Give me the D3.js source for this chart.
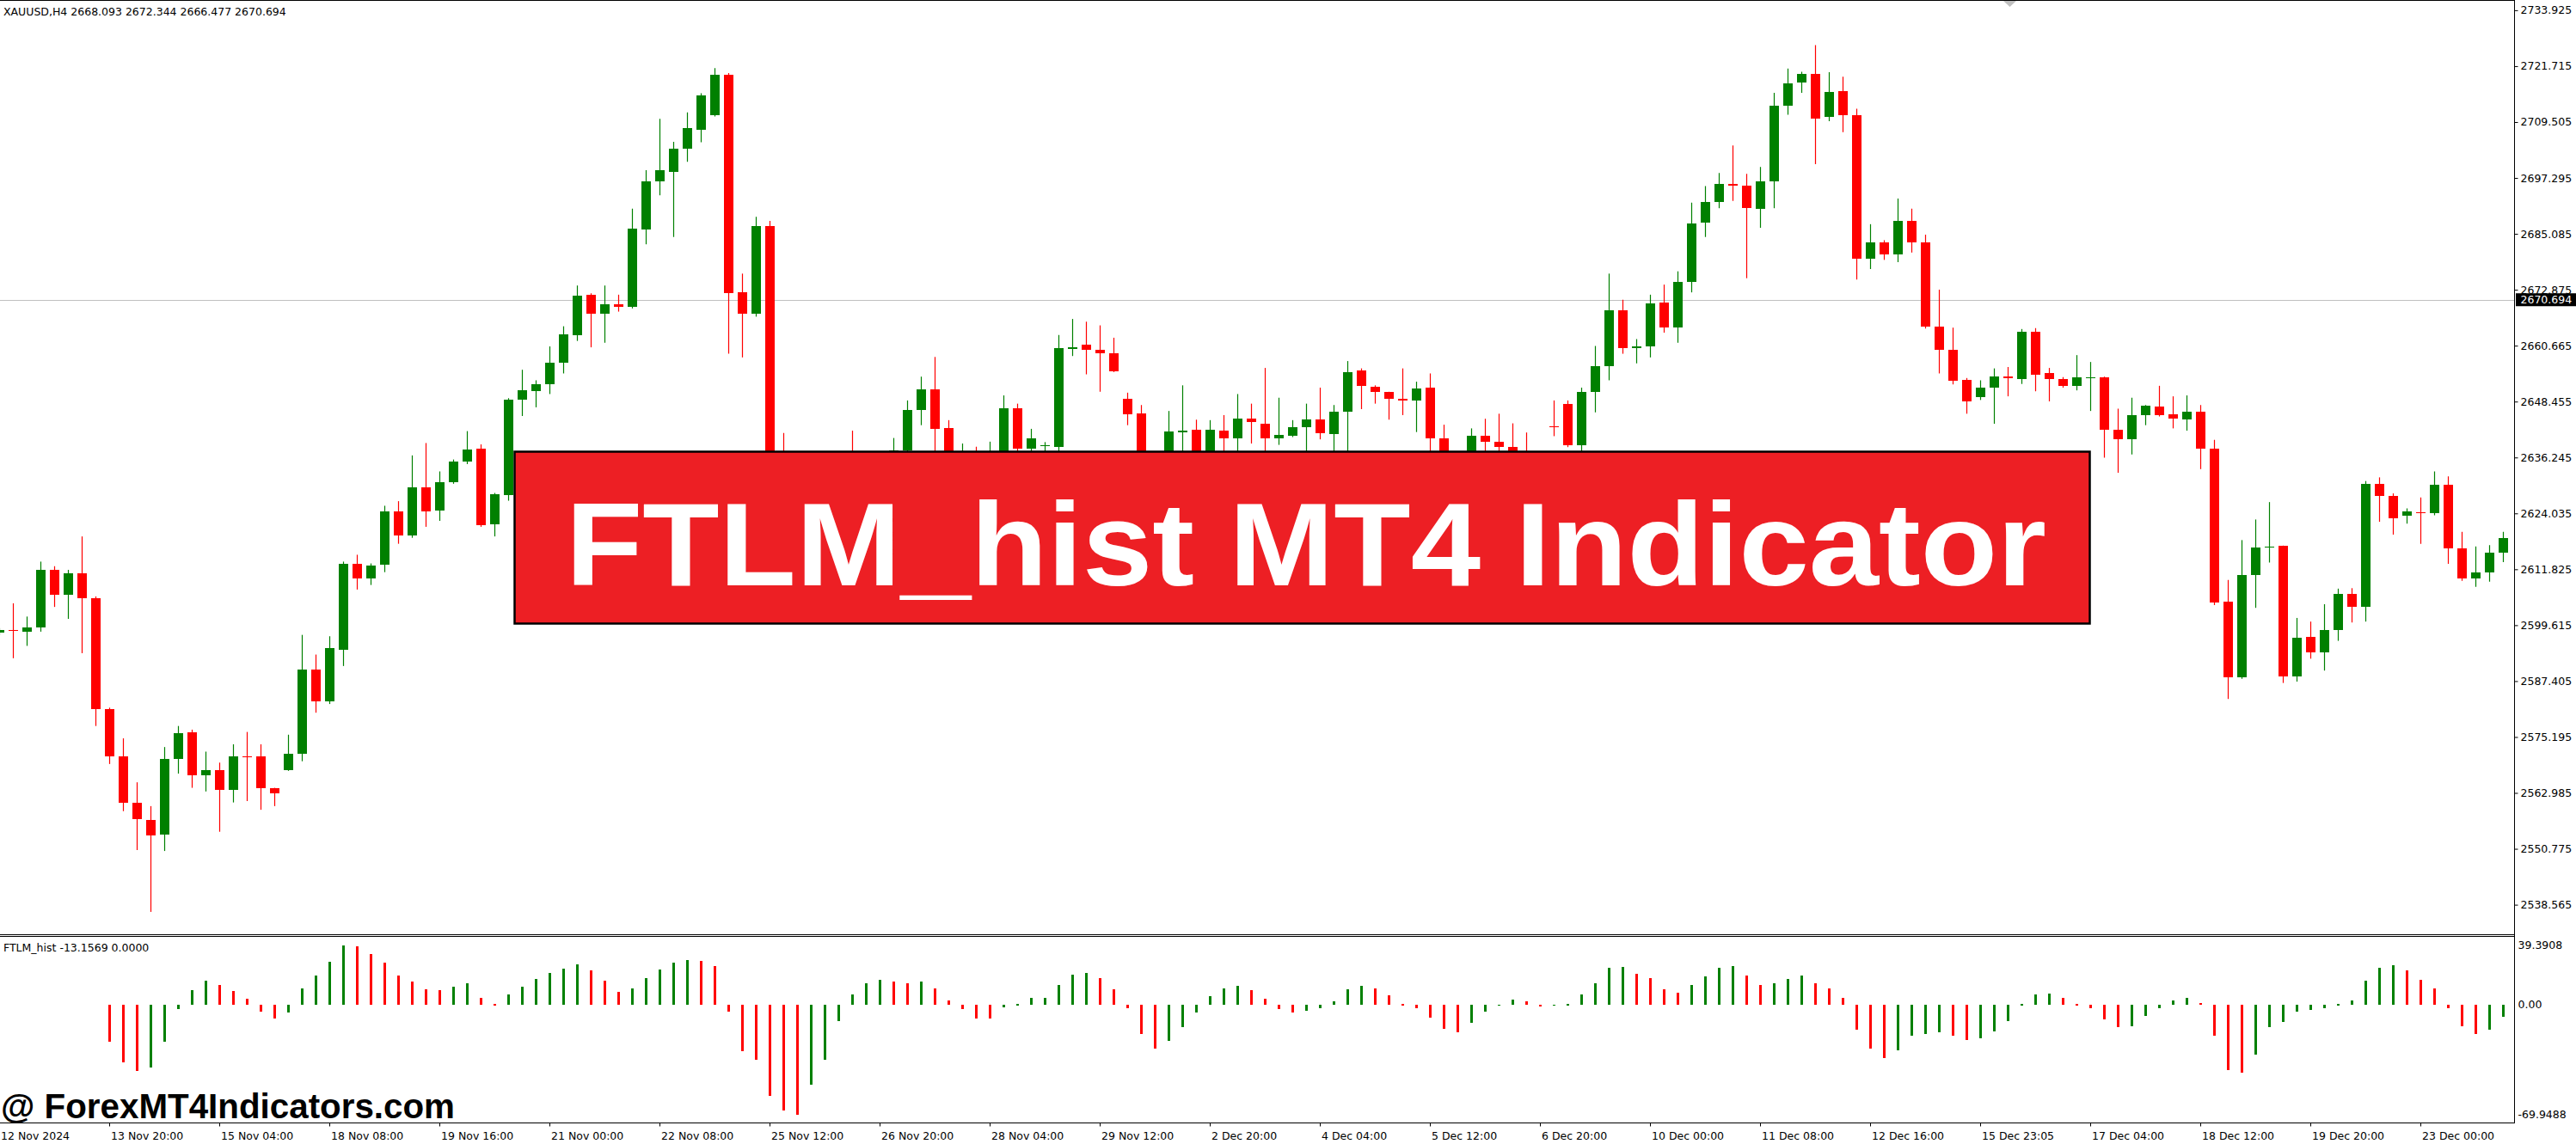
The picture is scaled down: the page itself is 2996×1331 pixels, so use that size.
<!DOCTYPE html>
<html><head><meta charset="utf-8">
<script src="https://d3js.org/d3.v7.min.js"></script>
<style>html,body{margin:0;padding:0;background:#fff;overflow:hidden}</style>
</head><body><svg id="chart" width="2996" height="1331" xmlns="http://www.w3.org/2000/svg"></svg>
<script>
// ---------------- DATA ----------------
const symbolLabel = "XAUUSD,H4  2668.093 2672.344 2666.477 2670.694";
const indicatorLabel = "FTLM_hist -13.1569 0.0000";
const bannerText = "FTLM_hist MT4 Indicator";
const watermarkText = "@ ForexMT4Indicators.com";
const bidPrice = 2670.694;

const openPrices = [
2598.0,2598.6,2598.2,2599.1,2611.7,2606.3,2610.9,2605.5,2581.3,2570.9,
2560.9,2557.0,2553.8,2570.4,2576.3,2566.9,2568.0,2563.7,2571.0,2570.9,
2564.0,2568.0,2571.5,2589.9,2583.0,2594.3,2613.0,2609.9,2612.8,2624.4,
2619.2,2629.7,2624.6,2630.8,2635.3,2638.2,2621.6,2628.0,2648.8,2650.7,
2652.2,2656.9,2663.0,2671.8,2667.6,2669.7,2669.1,2686.1,2696.5,2698.6,
2703.6,2707.9,2711.0,2719.9,2672.3,2667.6,2686.8,2627.0,2619.0,2611.0,
2617.0,2625.0,2630.0,2626.0,2629.0,2627.0,2637.8,2646.6,2651.1,2642.6,
2632.0,2635.0,2631.0,2634.0,2646.9,2638.2,2638.7,2638.6,2660.0,2660.8,
2659.8,2659.0,2649.0,2645.8,2632.0,2630.0,2641.8,2642.3,2635.0,2642.1,
2640.5,2644.7,2643.7,2640.5,2641.0,2642.8,2644.5,2641.3,2646.3,2655.2,
2651.7,2650.6,2649.0,2648.7,2651.5,2640.4,2630.0,2626.0,2641.0,2639.7,
2638.6,2634.0,2632.0,2643.0,2648.0,2639.0,2650.6,2656.2,2668.3,2660.2,
2660.5,2670.0,2664.6,2674.5,2687.6,2692.0,2696.0,2695.7,2690.6,2696.5,
2713.0,2718.2,2720.1,2710.7,2716.2,2711.0,2679.6,2683.3,2680.5,2688.0,
2683.3,2664.8,2659.8,2653.1,2649.5,2651.5,2653.9,2653.3,2663.7,2654.6,
2653.4,2651.9,2653.7,2653.8,2642.3,2640.2,2645.5,2647.4,2645.7,2644.5,
2646.3,2638.2,2604.7,2588.3,2610.6,2616.5,2616.9,2588.4,2597.0,2593.7,
2598.5,2606.4,2603.7,2630.5,2627.9,2623.5,2624.3,2624.1,2630.3,2616.3,
2609.9,2611.1,2615.5];
const highPrices = [
2599.0,2604.4,2601.5,2613.5,2612.5,2611.7,2619.0,2605.9,2581.6,2574.9,
2565.3,2560.1,2573.0,2577.6,2576.8,2572.0,2569.6,2573.6,2576.3,2573.6,
2564.1,2575.7,2597.5,2593.2,2597.2,2613.5,2615.0,2613.1,2625.7,2626.7,
2636.7,2639.4,2633.2,2635.8,2642.0,2639.1,2628.5,2649.2,2655.4,2653.1,
2660.5,2664.9,2673.8,2672.1,2673.8,2671.8,2690.6,2699.0,2710.2,2705.2,
2711.6,2715.8,2721.3,2720.2,2676.4,2688.8,2687.9,2641.6,2624.0,2621.0,
2628.0,2634.0,2642.1,2633.0,2634.0,2640.5,2648.7,2653.9,2658.2,2644.4,
2639.3,2638.6,2639.7,2649.8,2648.0,2642.5,2639.6,2663.0,2666.5,2665.9,
2665.1,2662.4,2650.4,2647.7,2636.0,2646.4,2652.0,2644.5,2644.4,2645.5,
2650.1,2648.0,2655.8,2649.3,2644.4,2648.0,2651.5,2647.7,2657.3,2655.7,
2652.0,2650.6,2655.7,2652.8,2654.6,2643.4,2635.0,2642.6,2644.7,2645.8,
2643.7,2641.7,2637.0,2648.7,2648.7,2651.5,2660.6,2676.4,2670.7,2662.1,
2671.8,2674.0,2676.9,2691.9,2695.5,2698.4,2704.4,2698.2,2699.7,2715.9,
2721.2,2720.5,2726.3,2720.4,2719.4,2712.4,2687.2,2683.7,2692.8,2690.6,
2684.9,2672.9,2664.6,2653.6,2653.1,2655.7,2656.0,2664.3,2664.5,2655.8,
2653.8,2658.6,2657.1,2653.9,2646.9,2649.3,2647.7,2651.9,2649.6,2649.8,
2647.7,2640.1,2609.5,2618.2,2622.7,2626.5,2617.0,2601.2,2600.4,2604.2,
2607.6,2607.7,2631.1,2631.9,2628.4,2625.1,2627.5,2633.2,2632.1,2620.0,
2616.8,2617.1,2620.0];
const lowPrices = [
2597.5,2592.4,2595.1,2598.2,2603.6,2601.0,2593.5,2577.6,2569.3,2559.0,
2550.5,2537.0,2550.3,2567.2,2564.1,2563.3,2554.5,2560.9,2561.2,2559.3,
2560.1,2567.8,2569.9,2580.5,2582.4,2590.7,2607.4,2608.4,2611.2,2617.4,
2618.7,2621.1,2622.4,2630.5,2634.8,2621.1,2619.0,2626.8,2645.3,2647.2,
2650.1,2654.6,2661.7,2660.3,2661.3,2668.1,2668.8,2682.8,2693.5,2684.4,
2700.8,2705.1,2710.7,2658.9,2658.1,2667.0,2624.0,2613.0,2606.0,2604.0,
2613.0,2620.0,2621.0,2620.0,2622.0,2624.0,2633.0,2643.3,2634.0,2628.0,
2628.0,2627.0,2628.0,2632.0,2634.0,2637.4,2637.6,2637.4,2658.4,2654.4,
2650.6,2654.9,2643.3,2628.0,2625.0,2627.0,2634.0,2632.0,2633.0,2636.0,
2637.0,2639.3,2636.0,2639.0,2640.7,2636.0,2640.2,2635.0,2634.0,2646.8,
2648.0,2644.5,2645.5,2641.8,2632.0,2626.0,2622.0,2624.0,2635.0,2634.0,
2631.0,2628.0,2629.0,2640.9,2638.5,2637.5,2646.1,2653.1,2658.9,2656.8,
2658.1,2663.5,2661.3,2672.3,2684.4,2690.7,2692.3,2675.4,2686.4,2690.7,
2711.1,2715.9,2700.3,2709.7,2707.3,2675.1,2677.4,2679.4,2678.9,2681.0,
2664.4,2654.6,2652.2,2645.8,2648.8,2643.6,2649.6,2652.3,2650.7,2648.5,
2651.5,2650.9,2646.4,2636.2,2632.9,2636.9,2643.3,2645.2,2642.6,2642.1,
2633.7,2604.0,2583.5,2587.9,2603.4,2613.3,2587.0,2587.3,2592.3,2589.7,
2596.2,2600.2,2600.4,2622.2,2619.4,2621.8,2617.4,2623.6,2613.0,2609.3,
2608.0,2609.1,2613.4];
const closePrices = [
2598.5,2598.4,2599.1,2611.7,2606.3,2610.9,2605.5,2581.3,2570.9,2560.9,
2557.2,2553.7,2570.4,2576.0,2566.9,2568.0,2563.7,2570.9,2570.8,2564.0,
2562.9,2571.5,2589.9,2583.0,2594.7,2613.0,2609.9,2612.7,2624.4,2619.2,
2629.7,2624.4,2630.8,2635.3,2638.0,2621.4,2628.3,2648.8,2650.9,2652.2,
2656.9,2663.2,2671.6,2667.6,2669.7,2669.1,2686.3,2696.5,2699.0,2703.6,
2708.1,2715.4,2719.9,2672.1,2667.6,2686.8,2627.0,2619.0,2611.0,2617.0,
2625.0,2630.0,2626.0,2629.0,2627.0,2637.8,2646.6,2651.1,2642.4,2632.0,
2635.0,2631.0,2634.0,2646.9,2638.2,2640.5,2639.0,2660.2,2660.3,2659.7,
2659.0,2655.0,2645.6,2632.0,2630.0,2642.0,2642.2,2635.0,2642.3,2640.5,
2644.7,2643.9,2640.5,2641.2,2642.8,2644.5,2641.5,2646.3,2654.9,2651.9,
2650.6,2649.0,2648.8,2651.4,2640.4,2630.0,2626.0,2641.0,2639.6,2638.5,
2634.0,2632.0,2635.0,2642.9,2639.0,2650.6,2656.2,2668.3,2660.2,2660.5,
2669.9,2664.6,2674.6,2687.4,2692.0,2696.0,2695.7,2690.7,2696.5,2713.0,
2718.0,2720.1,2710.3,2716.1,2711.0,2679.7,2683.3,2680.5,2688.0,2683.3,
2664.8,2659.8,2653.0,2648.5,2651.5,2653.9,2653.6,2663.7,2654.4,2653.3,
2651.9,2653.8,2653.8,2642.3,2640.2,2645.5,2647.6,2645.5,2644.7,2646.3,
2638.2,2604.5,2588.3,2610.6,2616.6,2616.8,2588.4,2596.9,2593.7,2598.5,
2606.4,2603.7,2630.5,2627.9,2622.9,2624.4,2624.1,2630.3,2616.3,2609.8,
2611.1,2615.5,2618.7];

// FTLM histogram, first value belongs to bar index histFirstBar
const histFirstBar = 8;
const histValues = [
-23.7,-36.7,-42.2,-39.9,-23.7,-2.8,9.3,15.3,12.5,8.8,
3.7,-4.6,-8.8,-5.1,10.2,18.6,27.4,37.6,37.1,32.0,
26.9,18.6,14.8,9.7,9.3,11.6,13.5,4.6,0.5,6.5,
11.6,16.2,20.0,22.7,25.5,21.8,15.3,8.4,10.2,16.7,
22.3,26.9,28.3,27.8,24.6,-4.2,-29.7,-35.3,-58.0,-67.3,
-69.9,-51.0,-35.3,-10.7,6.5,13.9,15.8,14.8,13.9,14.8,
10.2,2.8,-2.8,-8.8,-9.0,-1.9,0.3,4.2,4.4,12.5,
19.0,20.0,16.7,9.7,-2.3,-18.6,-27.8,-23.2,-14.4,-5.1,
5.6,10.2,12.1,9.3,3.7,-2.8,-5.1,-3.7,-2.3,2.3,
9.7,12.1,10.2,6.0,0.5,-2.3,-8.4,-15.3,-17.6,-11.6,
-4.6,-0.5,3.2,1.9,-1.4,-0.3,0.5,6.5,13.5,23.7,
24.1,19.5,16.7,9.7,7.4,12.5,18.1,23.7,24.6,18.6,
12.5,13.9,16.2,18.6,13.5,10.2,4.6,-15.8,-27.8,-33.9,
-29.2,-20.0,-18.6,-17.6,-19.5,-22.7,-21.3,-17.2,-10.7,0.5,
6.5,7.0,4.2,0.3,-2.0,-9.3,-14.4,-13.5,-7.4,-2.3,
2.8,4.6,1.0,-19.5,-41.8,-43.2,-32.0,-14.4,-11.1,-4.6,
-3.2,-2.3,0.5,2.8,15.3,23.7,25.1,21.8,15.8,10.2,
-2.3,-13.9,-18.6,-15.8,-7.9];

const timeLabels = ["12 Nov 2024","13 Nov 20:00","15 Nov 04:00","18 Nov 08:00","19 Nov 16:00",
"21 Nov 00:00","22 Nov 08:00","25 Nov 12:00","26 Nov 20:00","28 Nov 04:00","29 Nov 12:00",
"2 Dec 20:00","4 Dec 04:00","5 Dec 12:00","6 Dec 20:00","10 Dec 00:00","11 Dec 08:00",
"12 Dec 16:00","15 Dec 23:05","17 Dec 04:00","18 Dec 12:00","19 Dec 20:00","23 Dec 00:00"];
const timeLabelBars = [0,8,16,24,32,40,48,56,64,72,80,88,96,104,112,120,128,136,144,152,160,168,176];

const priceTicks = [2538.565,2550.775,2562.985,2575.195,2587.405,2599.615,2611.825,2624.035,
2636.245,2648.455,2660.665,2672.875,2685.085,2697.295,2709.505,2721.715,2733.925];
const histTicks = [39.3908, 0, -69.9488];
const histTickLabels = ["39.3908","0.00","-69.9488"];

// ---------------- DRAW ----------------
const UP = "#008000", DOWN = "#FF0000";
const FONT = "'DejaVu Sans', Verdana, sans-serif";
const plotRight = 2924.5;
const svg = d3.select("#chart");
svg.append("rect").attr("width",2996).attr("height",1331).attr("fill","#fff");

const n = openPrices.length;
const x = d3.scaleBand().domain(d3.range(n)).range([-8.5, -8.5 + 16 * n]).padding(0);
const cx = i => x(i) + x.bandwidth() / 2;
const y = d3.scaleLinear().domain([2538.565, 2733.925]).range([1052.6, 11.9]);
const yh = d3.scaleLinear().domain([-69.9488, 39.3908]).range([1296.8, 1096.9]);

const defs = svg.append("defs");
defs.append("clipPath").attr("id","mainClip").append("rect").attr("x",0).attr("y",1).attr("width",plotRight).attr("height",1086);
defs.append("clipPath").attr("id","indClip").append("rect").attr("x",0).attr("y",1090).attr("width",plotRight).attr("height",216);

// current price (bid) line
svg.append("line").attr("x1",0).attr("x2",plotRight).attr("y1",Math.round(y(bidPrice))+0.5).attr("y2",Math.round(y(bidPrice))+0.5)
  .attr("stroke","#C0C0C0").attr("stroke-width",1);

// candles
const candles = d3.range(n).map(i => ({i, o: openPrices[i], h: highPrices[i], l: lowPrices[i], c: closePrices[i]}));
const gMain = svg.append("g").attr("clip-path","url(#mainClip)");
const cg = gMain.selectAll("g.c").data(candles).join("g").attr("class","c");
cg.append("line")
  .attr("x1", d => cx(d.i)).attr("x2", d => cx(d.i))
  .attr("y1", d => y(d.h)).attr("y2", d => y(d.l))
  .attr("stroke", d => d.c >= d.o ? UP : DOWN).attr("stroke-width",1.2);
cg.append("rect")
  .attr("x", d => cx(d.i) - 5.5).attr("width", 11)
  .attr("y", d => y(Math.max(d.o, d.c)))
  .attr("height", d => Math.max(1.2, y(Math.min(d.o, d.c)) - y(Math.max(d.o, d.c))))
  .attr("fill", d => d.c >= d.o ? UP : DOWN)
  .attr("shape-rendering","crispEdges");

// histogram
const hist = histValues.map((v, j) => ({i: histFirstBar + j, v, up: j === 0 ? false : v > histValues[j-1]}));
const gInd = svg.append("g").attr("clip-path","url(#indClip)");
gInd.selectAll("rect.h").data(hist).join("rect").attr("class","h")
  .attr("x", d => cx(d.i) - 1.5).attr("width", 3)
  .attr("y", d => Math.min(yh(0), yh(d.v)))
  .attr("height", d => Math.max(1.5, Math.abs(yh(d.v) - yh(0))))
  .attr("fill", d => d.up ? UP : DOWN)
  .attr("shape-rendering","crispEdges");

// frame lines
const frame = svg.append("g").attr("stroke","#000").attr("stroke-width",1).attr("shape-rendering","crispEdges");
frame.append("line").attr("x1",0).attr("x2",plotRight).attr("y1",0.5).attr("y2",0.5);
frame.append("line").attr("x1",0).attr("x2",plotRight).attr("y1",1087.5).attr("y2",1087.5);
frame.append("line").attr("x1",0).attr("x2",plotRight).attr("y1",1089.5).attr("y2",1089.5);
frame.append("line").attr("x1",0).attr("x2",plotRight).attr("y1",1306.5).attr("y2",1306.5);
frame.append("line").attr("x1",plotRight).attr("x2",plotRight).attr("y1",0).attr("y2",1307);

// price axis
const pAxis = svg.append("g").attr("transform",`translate(${plotRight},0)`)
  .call(d3.axisRight(y).tickValues(priceTicks).tickFormat(d3.format(".3f")).tickSize(4).tickPadding(3));
pAxis.select(".domain").remove();
pAxis.selectAll("text").attr("font-family",FONT).attr("font-size","12.5px").attr("fill","#000");
pAxis.selectAll("line").attr("stroke","#000");

// bid label
const yb = y(bidPrice);
svg.append("rect").attr("x",2926).attr("y",yb-7.5).attr("width",70).attr("height",15).attr("fill","#000");
svg.append("text").attr("x",2931.5).attr("y",yb).attr("dy","0.36em").attr("font-family",FONT).attr("font-size","12.5px")
  .attr("fill","#fff").text(d3.format(".3f")(bidPrice));

// indicator axis
const hAxis = svg.append("g").attr("transform",`translate(${plotRight},0)`)
  .call(d3.axisRight(yh).tickValues(histTicks).tickFormat((d,i) => histTickLabels[i]).tickSize(0).tickPadding(4));
hAxis.select(".domain").remove();
hAxis.selectAll("text").attr("font-family",FONT).attr("font-size","12.5px").attr("fill","#000");
hAxis.selectAll(".tick").attr("transform", d => `translate(0,${Math.min(1297, Math.max(1100, yh(d)))})`);

// time axis
const tAxis = svg.append("g").attr("transform","translate(0,1306.5)")
  .call(d3.axisBottom(x).tickValues(timeLabelBars).tickFormat((d,i) => timeLabels[i]).tickSize(4));
tAxis.select(".domain").remove();
tAxis.selectAll("line").attr("stroke","#000");
tAxis.selectAll("text").attr("font-family",FONT).attr("font-size","12.5px").attr("fill","#000")
  .attr("text-anchor","start").attr("x",1.5).attr("y",19).attr("dy",0);

// header texts
svg.append("text").attr("x",4).attr("y",17.5).attr("font-family",FONT).attr("font-size","12.5px").attr("fill","#000").text(symbolLabel);
svg.append("text").attr("x",4).attr("y",1106.5).attr("font-family",FONT).attr("font-size","12.5px").attr("fill","#000").text(indicatorLabel);

// shift marker
svg.append("path").attr("d","M2330,1 L2345,1 L2337.5,8 Z").attr("fill","#C0C0C0");

// banner
svg.append("rect").attr("x",598.5).attr("y",525.5).attr("width",1832).attr("height",200)
  .attr("fill","#ED1F24").attr("stroke","#000").attr("stroke-width",2.5);
svg.append("text").attr("x",658).attr("y",681)
  .attr("font-family","'Liberation Sans', Arial, sans-serif").attr("font-weight","bold").attr("font-size","137px")
  .attr("fill","#fff").attr("textLength",1722).attr("lengthAdjust","spacingAndGlyphs").text(bannerText);

// watermark
svg.append("text").attr("x",1).attr("y",1301)
  .attr("font-family","'Liberation Sans', Arial, sans-serif").attr("font-weight","bold").attr("font-size","40px")
  .attr("fill","#000").attr("textLength",528).attr("lengthAdjust","spacingAndGlyphs").text(watermarkText);
</script>
</body></html>
